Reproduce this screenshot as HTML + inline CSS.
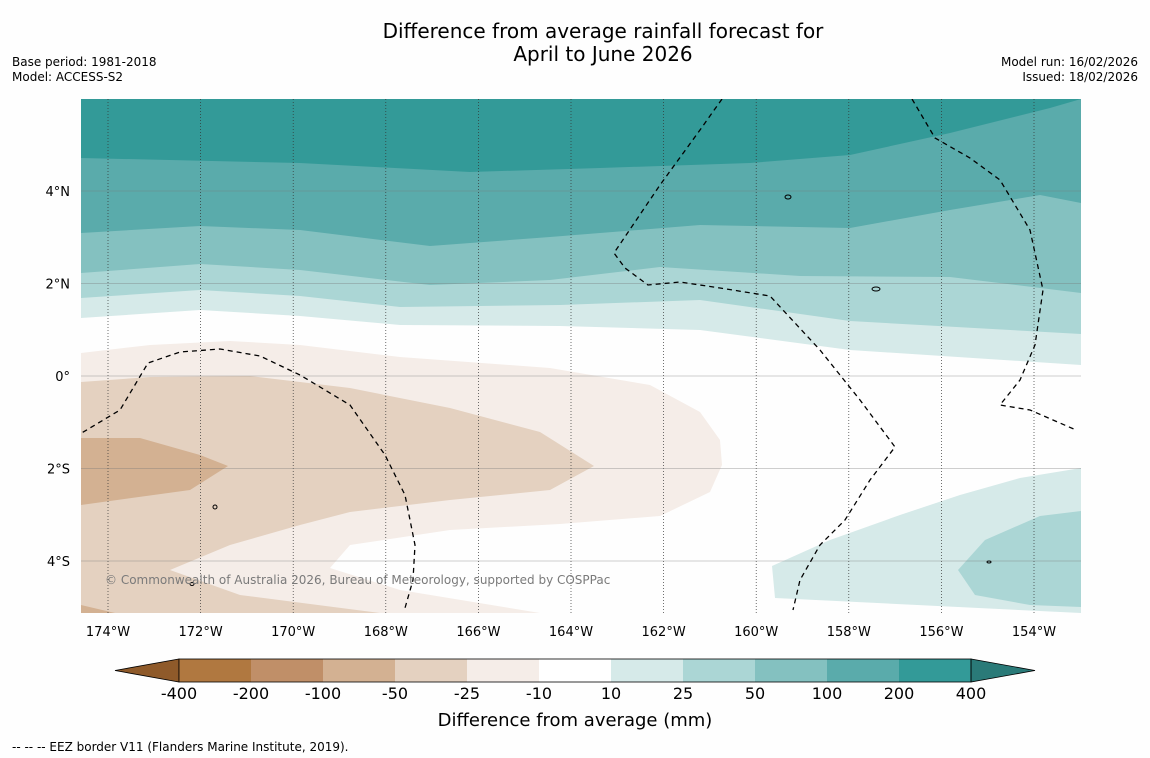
<!DOCTYPE html>
<html><head><meta charset="utf-8"><style>
body{margin:0;background:#fff;font-family:"DejaVu Sans","Liberation Sans",sans-serif;}
#wrap{position:relative;width:1150px;height:758px;overflow:hidden;background:#fefefe;}
svg text{font-family:"DejaVu Sans","Liberation Sans",sans-serif;}
</style></head><body>
<div id="wrap">
<svg id="svg" width="1150" height="758" xmlns="http://www.w3.org/2000/svg">
<text x="603" y="38" font-size="20" text-anchor="middle">Difference from average rainfall forecast for</text>
<text x="603" y="61" font-size="20" text-anchor="middle">April to June 2026</text>
<text x="12" y="66" font-size="12">Base period: 1981-2018</text>
<text x="12" y="81" font-size="12">Model: ACCESS-S2</text>
<text x="1138" y="66" font-size="12" text-anchor="end">Model run: 16/02/2026</text>
<text x="1138" y="81" font-size="12" text-anchor="end">Issued: 18/02/2026</text>
<defs><clipPath id="mc"><rect x="81" y="99" width="1000" height="514"/></clipPath></defs>
<g id="map" clip-path="url(#mc)"></g>
<g id="axes"></g>
<g id="cbar"></g>
<text x="575" y="726" font-size="18" text-anchor="middle">Difference from average (mm)</text>
<text x="12" y="751" font-size="12">--  --  -- EEZ border V11 (Flanders Marine Institute, 2019).</text>
</svg>
</div>
<script>
const levelColors=["#d6eae9","#abd6d5","#84c1c0","#5aabab","#339a98","#f5ede8","#e4d1c0","#d3b192"];
const contourLevels=[10,25,50,100,200,-10,-25,-50];
const toLL=p=>p.map(([x,y])=>[-174+(x-108)/46.3,(376-y)/46.25]);
const bnd10=toLL([[81,318],[200,310],[300,316],[400,325],[560,326],[700,330],[850,350],[1081,365]]);
const bnd25=toLL([[81,298],[200,290],[300,296],[400,307],[560,305],[700,300],[850,321],[1081,334]]);
const bnd50=toLL([[81,273],[200,264],[300,270],[430,285],[550,280],[660,267],[800,276],[950,277],[1081,293]]);
const bnd100=toLL([[81,233],[200,226],[300,230],[430,246],[550,237],[700,225],[850,228],[950,210],[1040,195],[1081,203]]);
const bnd200=toLL([[81,158],[300,163],[470,172],[600,168],[750,163],[850,155],[950,133],[1050,108],[1081,99]]);
const se10=toLL([[772,566],[830,540],[900,515],[960,495],[1020,478],[1081,468],[1081,613],[775,598]]);
const se25=toLL([[958,570],[985,540],[1040,516],[1081,511],[1081,607],[1030,605],[975,595]]);
const neg10=toLL([[81,353],[150,345],[230,341],[300,345],[400,357],[550,368],[650,385],[700,412],[720,440],[722,465],[710,492],[660,516],[560,524],[450,530],[350,545],[330,568],[400,590],[540,613],[81,613]]);
const neg25=toLL([[81,382],[150,377],[250,376],[350,388],[450,408],[540,432],[594,466],[550,490],[450,500],[350,512],[300,525],[230,545],[170,570],[240,595],[380,613],[81,613]]);
const neg50=toLL([[81,438],[140,438],[200,455],[228,466],[190,490],[81,505]]);
const neg50b=toLL([[81,605],[115,613],[81,613]]);
const eez1=toLL([[75,437],[120,410],[148,363],[180,352],[220,349],[260,356],[300,375],[350,405],[385,455],[405,495],[415,545],[413,580],[405,608]]);
const eez2=toLL([[722,99],[700,130],[660,185],[614,253],[625,268],[648,285],[680,282],[720,288],[770,296],[820,350],[860,400],[895,447],[870,480],[845,520],[820,545],[800,580],[793,610]]);
const eez3=toLL([[912,99],[935,138],[970,158],[1000,180],[1030,230],[1043,290],[1035,345],[1020,380],[1000,405],[1030,410],[1076,430]]);
const lonTicks=[-174,-172,-170,-168,-166,-164,-162,-160,-158,-156,-154];
const latTicks=[4,2,0,-2,-4];
const cbarLabels=["-400","-200","-100","-50","-25","-10","10","25","50","100","200","400"];
const cbarColors=["#b07840","#c08f68","#d3b192","#e4d1c0","#f5ede8","#ffffff","#d6eae9","#abd6d5","#84c1c0","#5aabab","#339a98"];
const ns="http://www.w3.org/2000/svg";
const X=lon=>108+(lon+174)*46.3, Y=lat=>376-lat*46.25;
function mk(t,a,parent){const e=document.createElementNS(ns,t);for(const k in a)e.setAttribute(k,a[k]);parent.appendChild(e);return e;}
const map=document.getElementById('map'),axes=document.getElementById('axes'),cb=document.getElementById('cbar');
function pts(a){return a.map(([lo,la])=>X(lo).toFixed(1)+','+Y(la).toFixed(1)).join(' ');}
function topPoly(b){return pts(b)+' '+X(-152)+','+Y(7)+' '+X(-175)+','+Y(7);}
const pos=[bnd10,bnd25,bnd50,bnd100,bnd200];
pos.forEach((b,i)=>{const e=mk('polygon',{points:topPoly(b),fill:levelColors[i]},map);

});
[[se10,0],[se25,1],[neg10,5],[neg25,6],[neg50,7],[neg50b,7]].forEach(([p,c])=>{const e=mk('polygon',{points:pts(p),fill:levelColors[c]},map);

});
lonTicks.forEach(l=>{const e=mk('line',{x1:X(l),x2:X(l),y1:99,y2:613,stroke:'#333','stroke-width':0.7,'stroke-dasharray':'1,2'},map);

});
latTicks.forEach(l=>{const e=mk('line',{x1:81,x2:1081,y1:Y(l),y2:Y(l),stroke:'#777','stroke-width':0.6,'stroke-opacity':0.7},map);

});
[eez1,eez2,eez3].forEach(p=>{const e=mk('polyline',{points:pts(p),fill:'none',stroke:'#000','stroke-width':1.3,'stroke-dasharray':'5,4'},map);

});
[[788,197,3,2],[876,289,4,2],[215,507,2,2],[192,584,2,1.5],[989,562,2,1]].forEach(([x,y,rx,ry])=>{const e=mk('ellipse',{cx:x,cy:y,rx:rx,ry:ry,fill:'none',stroke:'#000','stroke-width':1},map);

});
const cr=mk('text',{x:105,y:584,'font-size':12,fill:'#7a7a7a'},map);cr.textContent='© Commonwealth of Australia 2026, Bureau of Meteorology, supported by COSPPac';


lonTicks.forEach(l=>{const t=mk('text',{x:X(l),y:636,'font-size':13,'text-anchor':'middle'},axes);t.textContent=Math.abs(l)+'°W';

});
latTicks.forEach(l=>{const t=mk('text',{x:70,y:Y(l)+5,'font-size':13,'text-anchor':'end'},axes);t.textContent=l===0?'0°':Math.abs(l)+'°'+(l>0?'N':'S');

});
const bx0=179,bw=72,by=659,bh=23,nb=cbarColors.length;
let e=mk('polygon',{points:`${bx0},${by} ${bx0},${by+bh} 115,${by+bh/2}`,fill:'#8f5a2a',stroke:'#000','stroke-width':0.8},cb);


cbarColors.forEach((c,i)=>{const r=mk('rect',{x:bx0+i*bw,y:by,width:bw,height:bh,fill:c},cb);

});
e=mk('polygon',{points:`${bx0+nb*bw},${by} ${bx0+nb*bw},${by+bh} 1035,${by+bh/2}`,fill:'#2a7a78',stroke:'#000','stroke-width':0.8},cb);


mk('rect',{x:bx0,y:by,width:nb*bw,height:bh,fill:'none',stroke:'#000','stroke-width':0.8},cb);
cbarLabels.forEach((l,i)=>{const t=mk('text',{x:bx0+i*bw,y:699,'font-size':16,'text-anchor':'middle'},cb);t.textContent=l;

});
</script>
</body></html>
